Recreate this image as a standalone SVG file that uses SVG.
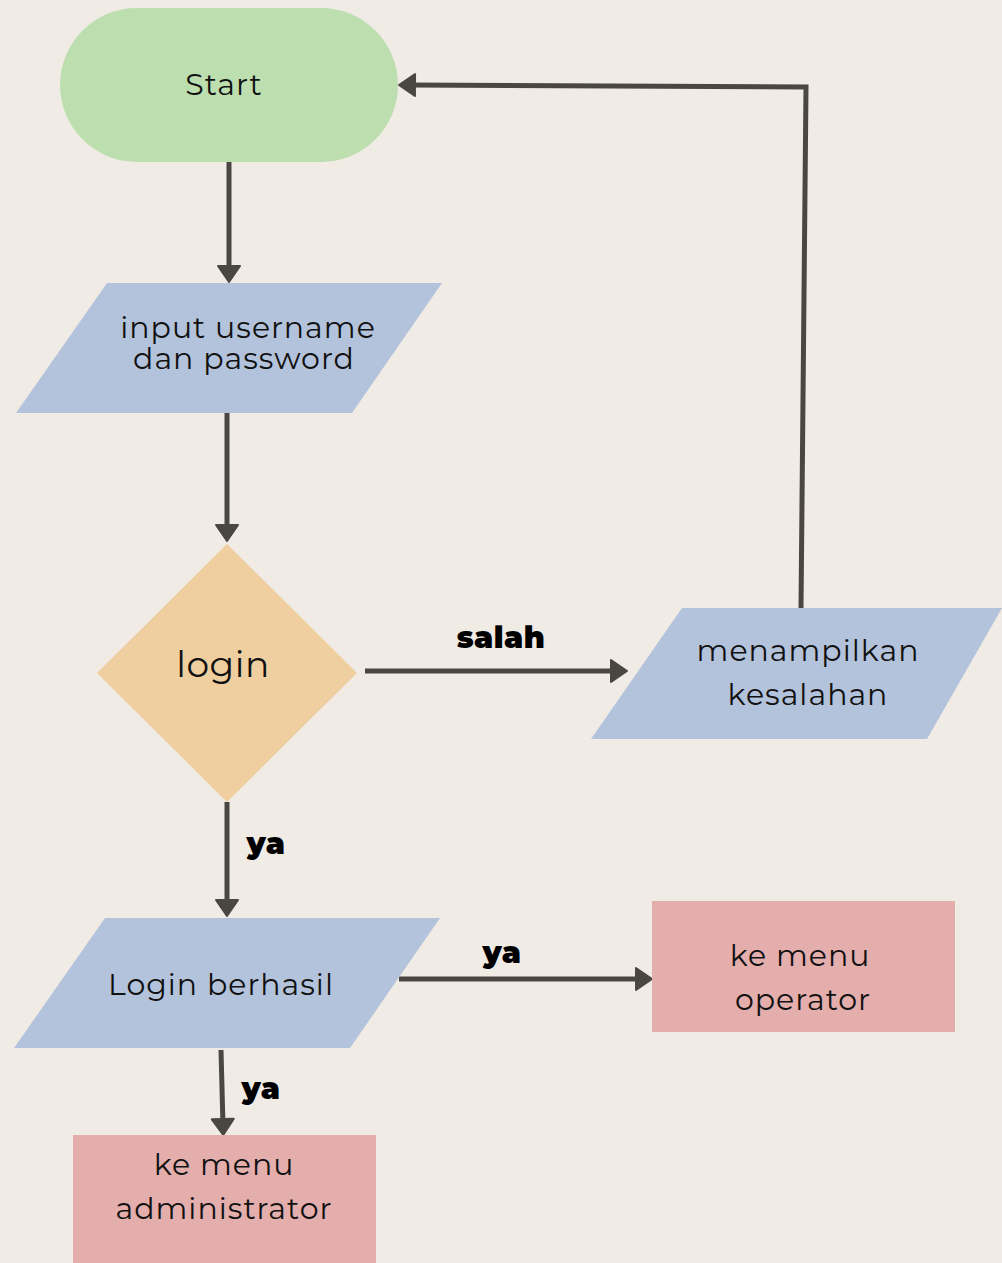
<svg xmlns="http://www.w3.org/2000/svg" width="1002" height="1263" viewBox="0 0 1002 1263">
<style>
.t{font-family:Montserrat,"Open Sans","Noto Sans",sans-serif;fill:#111;text-anchor:middle}
.n{font-size:30px;letter-spacing:1px}
.lb{font-size:30px;font-weight:900;letter-spacing:0.5px;fill:#000}
.c{fill:none;stroke:#4A4642;stroke-width:5;marker-end:url(#ah)}
.para{fill:#B4C3DC}
.box{fill:#E4AEAD}
</style>
<defs>
<marker id="ah" markerUnits="userSpaceOnUse" viewBox="0 0 20 26" markerWidth="20" markerHeight="26" refX="9" refY="13" orient="auto">
<path d="M2,2 L18,13 L2,24 Z" fill="#4A4642" stroke="#4A4642" stroke-width="2" stroke-linejoin="round"/>
</marker>
</defs>
<rect width="1002" height="1263" fill="#F0EBE5"/>
<g id="connectors">
<path class="c" d="M229,162 V273"/>
<path class="c" d="M227,413 V532"/>
<path class="c" d="M365,671 H618"/>
<path class="c" d="M801,608 L806,87 L408,85"/>
<path class="c" d="M227,802 V907"/>
<path class="c" d="M399,979 H643"/>
<path class="c" d="M221,1050 L223,1126"/>
</g>
<g id="start">
<rect x="60" y="8" width="338" height="154" rx="77" fill="#BDDFAF"/>
<text class="t n" x="224" y="95">Start</text>
</g>
<g id="input">
<polygon class="para" points="107,283 442,283 352,413 16,413"/>
<text class="t n" x="248" y="338">input username</text>
<text class="t n" x="244" y="369">dan password</text>
</g>
<g id="login">
<polygon points="227,544 357,673 227,802 97,673" fill="#EFCEA0"/>
<text class="t" style="font-size:36px;letter-spacing:0.5px" x="223" y="677">login</text>
</g>
<g id="error">
<polygon class="para" points="682,608 1002,608 927,739 591,739"/>
<text class="t n" x="808" y="661">menampilkan</text>
<text class="t n" x="808" y="705">kesalahan</text>
</g>
<g id="success">
<polygon class="para" points="105,918 440,918 350,1048 14,1048"/>
<text class="t n" x="221" y="995">Login berhasil</text>
</g>
<g id="operator">
<rect class="box" x="652" y="901" width="303" height="131"/>
<text class="t n" x="800" y="966">ke menu</text>
<text class="t n" x="803" y="1010">operator</text>
</g>
<g id="admin">
<rect class="box" x="73" y="1135" width="303" height="128"/>
<text class="t n" x="224" y="1175">ke menu</text>
<text class="t n" x="224" y="1219">administrator</text>
</g>
<g id="labels">
<text class="t lb" x="501" y="648">salah</text>
<text class="t lb" x="266" y="854">ya</text>
<text class="t lb" x="502" y="963">ya</text>
<text class="t lb" x="261" y="1099">ya</text>
</g>
</svg>
